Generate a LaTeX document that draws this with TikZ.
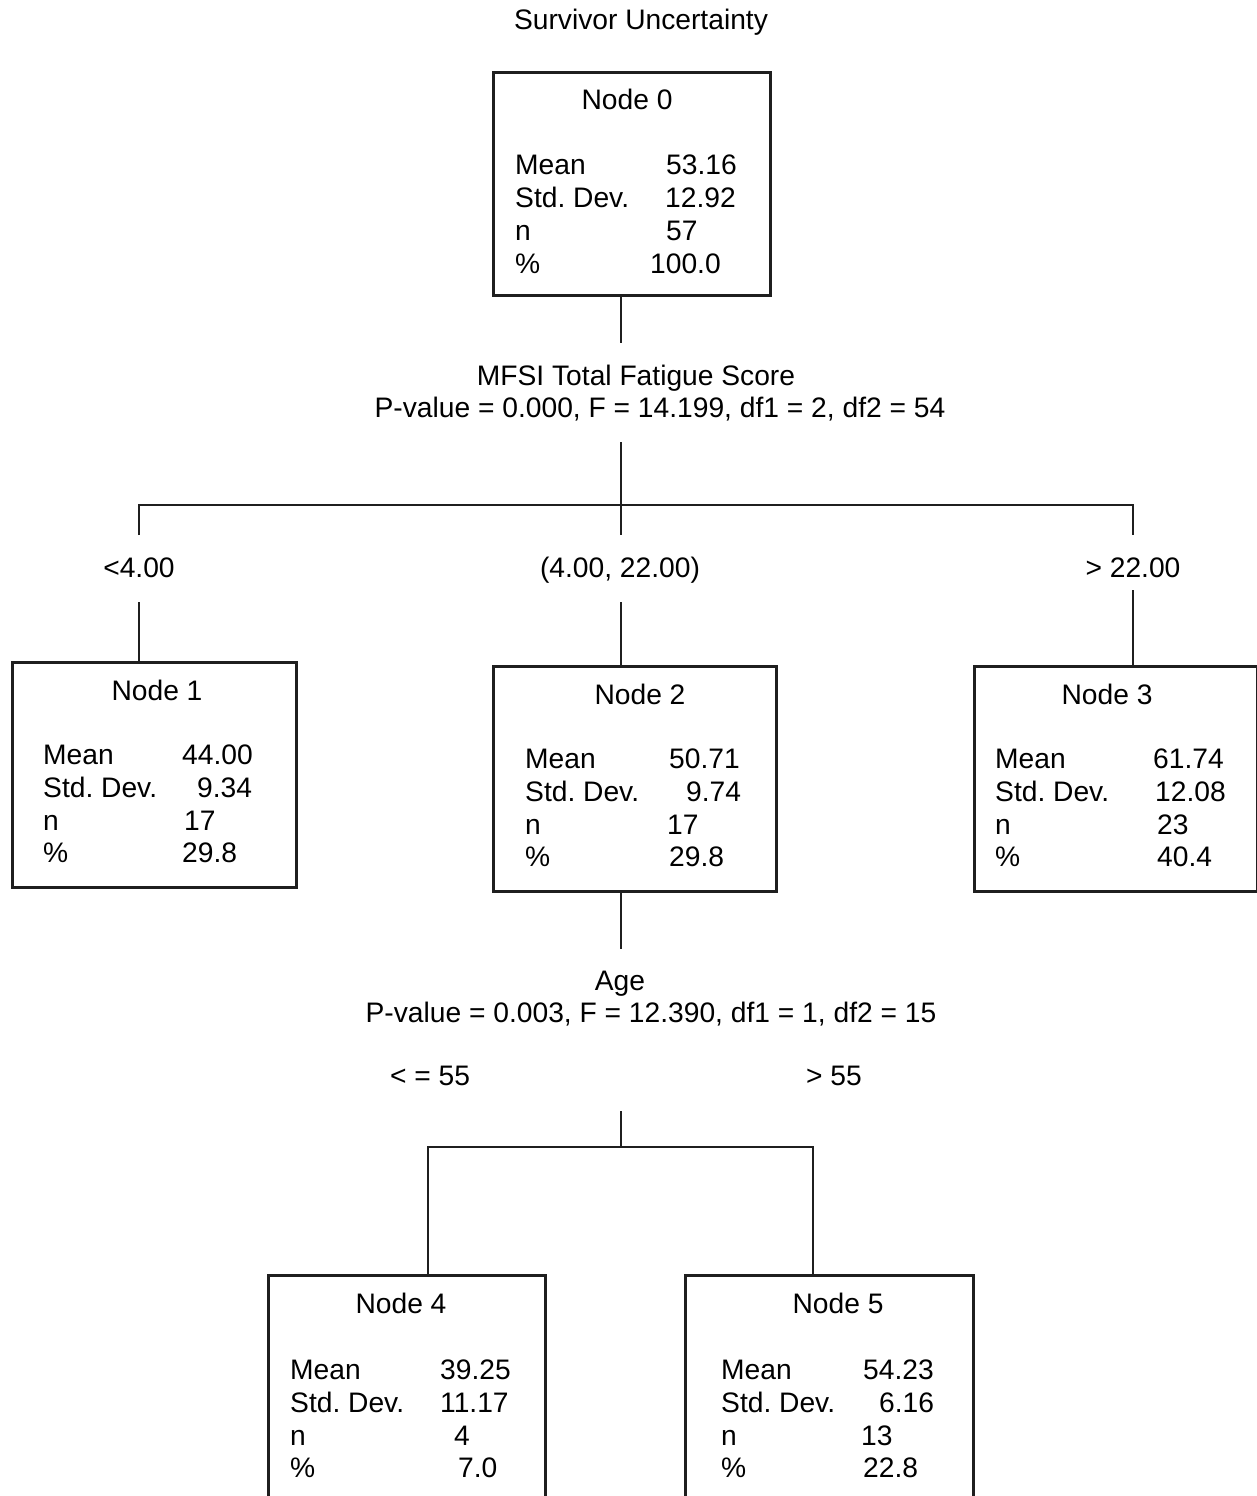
\documentclass[tikz,border=0pt]{standalone}
\usepackage{fontspec}
\setmainfont{Liberation Sans}
\frenchspacing
\begin{document}
\begin{tikzpicture}[x=1pt,y=-1pt,
  lw/.style={line width=2.7pt, draw=black!88},
  box/.style={lw, rectangle, inner sep=0pt, anchor=north west},
  txt/.style={inner sep=0pt, font=\fontsize{28.2}{33}\selectfont\frenchspacing, text=black},
  ctr/.style={txt, anchor=base},
  lft/.style={txt, anchor=base west}]
\useasboundingbox (0,0) rectangle (1257,1496);
\clip (0,0) rectangle (1257,1496);
\fill[white] (0,0) rectangle (1257,1496);

% title
\node[ctr] (title) at (641,30) {Survivor Uncertainty};

% ---------- boxes ----------
\node[box, minimum width=277pt, minimum height=223pt] (n0) at (492,71) {};
\node[box, minimum width=284pt, minimum height=225pt] (n1) at (11,661) {};
\node[box, minimum width=283pt, minimum height=225pt] (n2) at (492,665) {};
\node[box, minimum width=283pt, minimum height=225pt] (n3) at (973,665) {};
\node[box, minimum width=277pt, minimum height=260pt] (n4) at (267,1274) {};
\node[box, minimum width=288pt, minimum height=260pt] (n5) at (684,1274) {};

% ---------- node 0 ----------
\node[ctr] (n0t) at (627,109) {Node 0};
\node[lft] (n0a) at (515,174) {Mean};
\node[lft] (n0b) at (515,207) {Std. Dev.};
\node[lft] (n0c) at (515,240) {n};
\node[lft] (n0d) at (515,273) {\%};
\node[lft] (n0av) at (666,174) {53.16};
\node[lft] (n0bv) at (665,207) {12.92};
\node[lft] (n0cv) at (666,240) {57};
\node[lft] (n0dv) at (650,273) {100.0};

% ---------- split 1 ----------
\node[ctr] (sp1a) at (636,385) {MFSI Total Fatigue Score};
\node[ctr] (sp1b) at (660,417) {P-value = 0.000, F = 14.199, df1 = 2, df2 = 54};
\node[ctr] (l1) at (139,577) {<4.00};
\node[ctr] (l2) at (620,577) {(4.00, 22.00)};
\node[ctr] (l3) at (1133,577) {> 22.00};

\coordinate (a0) at (621,343);
\coordinate (a1) at (621,442);
\coordinate (h1) at (139,505);
\coordinate (h2) at (621,505);
\coordinate (h3) at (1133,505);
\coordinate (d1) at (139,535);
\coordinate (d2) at (621,535);
\coordinate (d3) at (1133,535);
\coordinate (u1) at (139,602);
\coordinate (u2) at (621,602);
\coordinate (u3) at (1133,590);

\draw[lw] (n0.south -| a0) -- (a0);
\draw[lw] (a1) -- (h2);
\draw[lw] (d1) -- (h1) -- (h3) -- (d3);
\draw[lw] (h2) -- (d2);
\draw[lw] (u1) -- (n1.north -| u1);
\draw[lw] (u2) -- (n2.north -| u2);
\draw[lw] (u3) -- (n3.north -| u3);

% ---------- node 1 ----------
\node[ctr] (n1t) at (157,700) {Node 1};
\node[lft] (n1a) at (43,764) {Mean};
\node[lft] (n1b) at (43,797) {Std. Dev.};
\node[lft] (n1c) at (43,830) {n};
\node[lft] (n1d) at (43,862) {\%};
\node[lft] (n1av) at (182,764) {44.00};
\node[lft] (n1bv) at (197,797) {9.34};
\node[lft] (n1cv) at (184,830) {17};
\node[lft] (n1dv) at (182,862) {29.8};

% ---------- node 2 ----------
\node[ctr] (n2t) at (640,704) {Node 2};
\node[lft] (n2a) at (525,768) {Mean};
\node[lft] (n2b) at (525,801) {Std. Dev.};
\node[lft] (n2c) at (525,834) {n};
\node[lft] (n2d) at (525,866) {\%};
\node[lft] (n2av) at (669,768) {50.71};
\node[lft] (n2bv) at (686,801) {9.74};
\node[lft] (n2cv) at (667,834) {17};
\node[lft] (n2dv) at (669,866) {29.8};

% ---------- node 3 ----------
\node[ctr] (n3t) at (1107,704) {Node 3};
\node[lft] (n3a) at (995,768) {Mean};
\node[lft] (n3b) at (995,801) {Std. Dev.};
\node[lft] (n3c) at (995,834) {n};
\node[lft] (n3d) at (995,866) {\%};
\node[lft] (n3av) at (1153,768) {61.74};
\node[lft] (n3bv) at (1155,801) {12.08};
\node[lft] (n3cv) at (1157,834) {23};
\node[lft] (n3dv) at (1157,866) {40.4};

% ---------- split 2 ----------
\coordinate (b0) at (621,949);
\node[ctr] (sp2a) at (620,990) {Age};
\node[ctr] (sp2b) at (651,1022) {P-value = 0.003, F = 12.390, df1 = 1, df2 = 15};
\node[ctr] (l4) at (430,1085) {< = 55};
\node[ctr] (l5) at (834,1085) {> 55};
\coordinate (b1) at (621,1111);
\coordinate (g0) at (621,1147);
\coordinate (g1) at (428,1147);
\coordinate (g2) at (813,1147);

\draw[lw] (n2.south -| b0) -- (b0);
\draw[lw] (b1) -- (g0);
\draw[lw] (n4.north -| g1) -- (g1) -- (g2) -- (n5.north -| g2);

% ---------- node 4 ----------
\node[ctr] (n4t) at (401,1313) {Node 4};
\node[lft] (n4a) at (290,1379) {Mean};
\node[lft] (n4b) at (290,1412) {Std. Dev.};
\node[lft] (n4c) at (290,1445) {n};
\node[lft] (n4d) at (290,1477) {\%};
\node[lft] (n4av) at (440,1379) {39.25};
\node[lft] (n4bv) at (440,1412) {11.17};
\node[lft] (n4cv) at (454,1445) {4};
\node[lft] (n4dv) at (458,1477) {7.0};

% ---------- node 5 ----------
\node[ctr] (n5t) at (838,1313) {Node 5};
\node[lft] (n5a) at (721,1379) {Mean};
\node[lft] (n5b) at (721,1412) {Std. Dev.};
\node[lft] (n5c) at (721,1445) {n};
\node[lft] (n5d) at (721,1477) {\%};
\node[lft] (n5av) at (863,1379) {54.23};
\node[lft] (n5bv) at (879,1412) {6.16};
\node[lft] (n5cv) at (861,1445) {13};
\node[lft] (n5dv) at (863,1477) {22.8};
\end{tikzpicture}
\end{document}
